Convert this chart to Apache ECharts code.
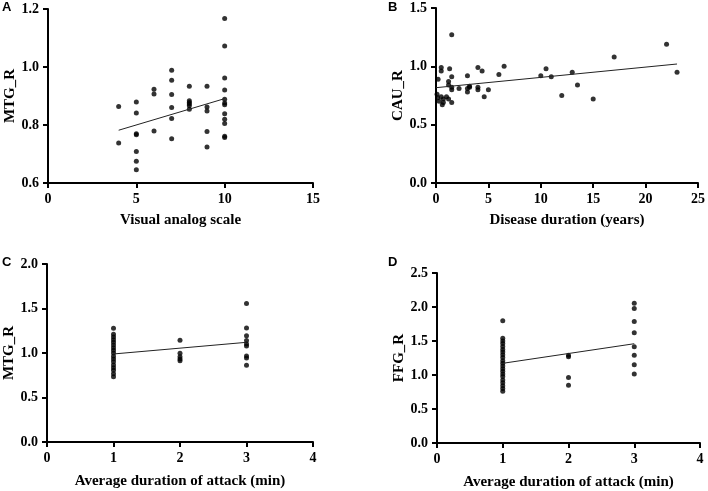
<!DOCTYPE html>
<html>
<head>
<meta charset="utf-8">
<script src="https://cdn.jsdelivr.net/npm/echarts@6/dist/echarts.min.js"></script>
<style>html,body{margin:0;padding:0;background:#fff}#c{width:708px;height:491px}</style>
</head>
<body>
<div id="c"></div>
<script>
// Panel A: Visual analog scale vs MTG_R
const aX = [4,4, 5,5,5,5,5,5,5, 6,6,6, 7,7,7,7,7,7, 8,8,8,8,8,8, 9,9,9,9,9, 10,10,10,10,10,10,10,10,10,10,10,10];
const aY = [0.864,0.738, 0.879,0.841,0.770,0.766,0.709,0.675,0.646, 0.923,0.907,0.779, 0.989,0.954,0.905,0.860,0.822,0.753, 0.934,0.884,0.878,0.872,0.866,0.854, 0.934,0.862,0.848,0.778,0.724, 1.167,1.072,0.962,0.921,0.889,0.876,0.870,0.839,0.820,0.805,0.761,0.757];
const aFitX = [4, 10];
const aFitY = [0.782, 0.891];

// Panel B: Disease duration vs CAU_R
const bX = [0.1,0.15,0.2,0.3,0.5,0.5,0.5,0.6,0.7,0.7,1.0,1.2,1.2,1.2,1.3,1.5,1.5,1.5,1.5,1.5,2.2,3.0,3.0,3.0,3.2,3.2,4.0,4.0,4.0,4.4,4.6,5.0,6.0,6.5,10.0,10.5,11.0,12.0,13.0,13.5,15.0,17.0,22.0,23.0];
const bY = [0.76,0.73,0.89,0.70,0.99,0.96,0.74,0.67,0.69,0.72,0.74,0.72,0.87,0.84,0.98,1.27,0.91,0.82,0.80,0.69,0.81,0.92,0.81,0.78,0.82,0.83,0.99,0.82,0.80,0.96,0.74,0.80,0.93,1.00,0.92,0.98,0.91,0.75,0.95,0.84,0.72,1.08,1.19,0.95];
const bFitX = [0, 23];
const bFitY = [0.817, 1.02];

// Panel C: Average duration of attack vs MTG_R
const cX = [1,1,1,1,1,1,1,1,1,1,1,1,1,1,1,1,1, 2,2,2,2,2, 3,3,3,3,3,3,3,3,3];
const cY = [1.278,1.211,1.180,1.150,1.121,1.090,1.060,1.030,1.000,0.963,0.932,0.902,0.865,0.834,0.805,0.767,0.733, 1.143,0.996,0.959,0.932,0.914, 1.556,1.282,1.195,1.140,1.100,1.079,0.966,0.944,0.861];
const cFitX = [1, 3];
const cFitY = [0.989, 1.12];

// Panel D: Average duration of attack vs FFG_R
const dX = [1,1,1,1,1,1,1,1,1,1,1,1,1,1,1,1,1,1,1,1,1, 2,2,2,2, 3,3,3,3,3,3,3,3];
const dY = [1.797,1.541,1.501,1.462,1.418,1.375,1.337,1.297,1.258,1.210,1.171,1.133,1.093,1.054,1.016,0.977,0.928,0.885,0.841,0.802,0.762, 1.289,1.27,0.962,0.85, 2.056,1.978,1.787,1.621,1.416,1.289,1.152,1.016];
const dFitX = [1, 3];
const dFitY = [1.172, 1.46];

const xTitles = ['Visual analog scale', 'Disease duration (years)', 'Average duration of attack (min)', 'Average duration of attack (min)'];
const yTitles = ['MTG_R', 'CAU_R', 'MTG_R', 'FFG_R'];
const panelLetters = ['A', 'B', 'C', 'D'];

const pairs = (xs, ys) => xs.map((x, i) => [x, ys[i]]);

const serif = '"Liberation Serif", "Times New Roman", serif';
const grids = [
  {left: 48, top: 9, width: 265, height: 174},
  {left: 436, top: 8, width: 264, height: 175},
  {left: 47, top: 264, width: 266, height: 178},
  {left: 437, top: 273, width: 263, height: 171}
];
const xr = [[0,15,5],[0,25,5],[0,4,1],[0,4,1]];
const yr = [[0.6,1.2,0.2],[0,1.5,0.5],[0,2,0.5],[0,2.5,0.5]];
const xGaps = [30, 30, 32, 32];

function axisCommon() {
  return {
    axisLine: {show: true, onZero: false, lineStyle: {color: '#000', width: 2}},
    axisTick: {show: true, inside: false, length: 5, lineStyle: {color: '#000', width: 2}},
    splitLine: {show: false},
    axisLabel: {color: '#000', fontFamily: serif, fontWeight: 'bold', fontSize: 14},
    nameTextStyle: {color: '#000', fontFamily: serif, fontWeight: 'bold', fontSize: 15},
    nameLocation: 'middle'
  };
}

const xAxis = [], yAxis = [];
for (let i = 0; i < 4; i++) {
  const xa = axisCommon();
  Object.assign(xa, {type: 'value', gridIndex: i, min: xr[i][0], max: xr[i][1], interval: xr[i][2], name: xTitles[i], nameGap: xGaps[i]});
  xa.axisLabel.margin = 9;
  xAxis.push(xa);
  const ya = axisCommon();
  Object.assign(ya, {type: 'value', gridIndex: i, min: yr[i][0], max: yr[i][1], interval: yr[i][2], name: yTitles[i], nameGap: 27});
  ya.axisLabel.margin = 9;
  ya.axisLabel.formatter = v => v.toFixed(1);
  yAxis.push(ya);
}

const data = [[aX,aY,aFitX,aFitY],[bX,bY,bFitX,bFitY],[cX,cY,cFitX,cFitY],[dX,dY,dFitX,dFitY]];
const series = [];
data.forEach((d, i) => {
  series.push({type: 'scatter', xAxisIndex: i, yAxisIndex: i, data: pairs(d[0], d[1]), symbol: 'circle', symbolSize: 5, itemStyle: {color: '#000'}, silent: true});
  series.push({type: 'line', xAxisIndex: i, yAxisIndex: i, data: pairs(d[2], d[3]), symbol: 'none', lineStyle: {color: '#222', width: 1}, silent: true});
});

const letterPos = [[2, 1], [388, 1], [2, 256], [388, 256]];
const graphic = panelLetters.map((t, i) => ({
  type: 'text', left: letterPos[i][0], top: letterPos[i][1],
  style: {text: t, font: 'bold 13px "Liberation Sans", Arial, sans-serif', fill: '#000'}
}));

const chart = echarts.init(document.getElementById('c'), null, {renderer: 'canvas'});
chart.setOption({animation: false, grid: grids, xAxis, yAxis, series, graphic});
</script>
</body>
</html>
